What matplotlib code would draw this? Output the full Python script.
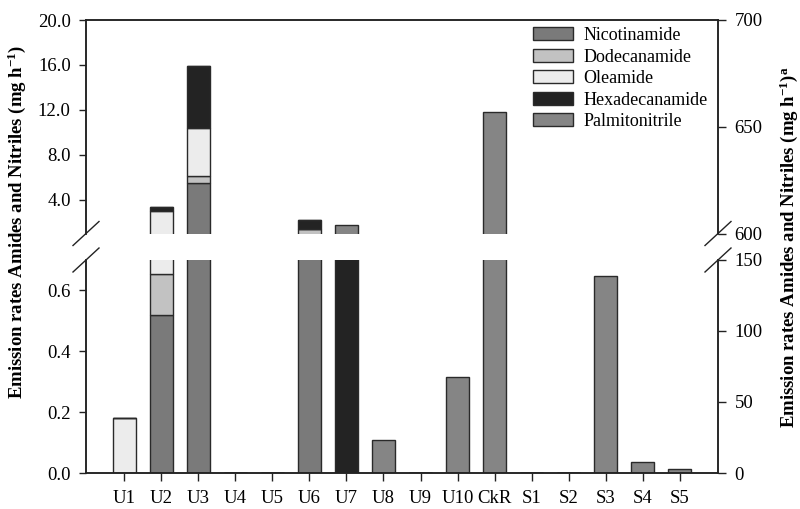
import matplotlib
matplotlib.use("Agg")
import matplotlib.pyplot as plt
import numpy as np
from matplotlib.lines import Line2D

plt.rcParams['font.family'] = ['Liberation Serif', 'DejaVu Serif']
plt.rcParams['mathtext.fontset'] = 'custom'
plt.rcParams['mathtext.rm'] = 'Liberation Serif'
plt.rcParams['mathtext.bf'] = 'Liberation Serif:bold'
plt.rcParams['mathtext.it'] = 'Liberation Serif:italic'

categories = ['U1', 'U2', 'U3', 'U4', 'U5', 'U6', 'U7', 'U8', 'U9', 'U10',
              'CkR', 'S1', 'S2', 'S3', 'S4', 'S5']
series_names = ['Nicotinamide', 'Dodecanamide', 'Oleamide', 'Hexadecanamide', 'Palmitonitrile']
nicotinamide   = [0, 0.52, 5.5, 0, 0, 0.85, 0, 0, 0, 0, 0, 0, 0, 0, 0, 0]
dodecanamide   = [0, 0.135, 0.6, 0, 0, 0.57, 0, 0, 0, 0, 0, 0, 0, 0, 0, 0]
oleamide       = [0.18, 2.345, 4.3, 0, 0, 0, 0, 0, 0, 0, 0, 0, 0, 0, 0, 0]
hexadecanamide = [0, 0.38, 5.5, 0, 0, 0.74, 0.9, 0, 0, 0, 0, 0, 0, 0, 0, 0]
palmitonitrile = [0, 0, 0, 0, 0, 0, 0.85, 0.108, 0, 0.317, 11.85, 0, 0, 0.648, 0.036, 0.013]
series = [nicotinamide, dodecanamide, oleamide, hexadecanamide, palmitonitrile]
colors = ['#7a7a7a', '#c2c2c2', '#ececec', '#232323', '#858585']

top_left_ticks = [4.0, 8.0, 12.0, 16.0, 20.0]
bot_left_ticks = [0.0, 0.2, 0.4, 0.6]
top_right_ticks = [600, 650, 700]
bot_right_ticks = [0, 50, 100, 150]

W, H = 800, 509
fig = plt.figure(figsize=(W/100, H/100), dpi=100)
L, R = 86/W, 718/W
ax_top = fig.add_axes([L, 1-233.5/H, R-L, (233.5-20)/H])
ax_bot = fig.add_axes([L, 1-473/H, R-L, (473-260)/H])

x = np.arange(len(categories))
edge = '#2a2a2a'
for ax in (ax_top, ax_bot):
    bottom = np.zeros(len(categories))
    for name, vals, c in zip(series_names, series, colors):
        v = np.array(vals, dtype=float)
        ax.bar(x, v, 0.62, bottom=bottom, color=c, edgecolor=edge, linewidth=1.0,
               label=name)
        bottom += v
    ax.set_xlim(-1.027, 16.027)
    for s in ax.spines.values():
        s.set_linewidth(1.1)
        s.set_color('#222222')
    ax.tick_params(axis='y', direction='out', length=5, width=1, labelsize=13.5, pad=6, color='#222222')

ax_top.set_ylim(1.0, 20.0)
ax_top.set_yticks(top_left_ticks)
ax_top.set_yticklabels([f'{t:.1f}' for t in top_left_ticks])
ax_top.spines['bottom'].set_visible(False)
ax_top.set_xticks([])

ax_bot.set_ylim(0, 0.7)
ax_bot.set_yticks(bot_left_ticks)
ax_bot.set_yticklabels([f'{t:.1f}' for t in bot_left_ticks])
ax_bot.spines['top'].set_visible(False)
ax_bot.set_xticks(x)
ax_bot.set_xticklabels(categories)
ax_bot.tick_params(axis='x', direction='out', length=6, width=1, labelsize=13.5, pad=6, color='#222222')

# right axes
axt_r = ax_top.twinx()
axt_r.set_ylim(600, 700)
axt_r.set_yticks(top_right_ticks)
axt_r.spines['bottom'].set_visible(False)
axb_r = ax_bot.twinx()
axb_r.set_ylim(0, 150)
axb_r.set_yticks(bot_right_ticks)
axb_r.spines['top'].set_visible(False)
for ax in (axt_r, axb_r):
    for s in ax.spines.values():
        s.set_linewidth(1.1)
        s.set_color('#222222')
    ax.tick_params(axis='y', direction='out', length=6, width=1, labelsize=13.5, pad=6, color='#222222')

# break marks
for xs in (86, 718):
    for ys in (233.5, 260):
        fig.add_artist(Line2D([(xs-13)/W, (xs+13)/W], [1-(ys+12)/H, 1-(ys-12)/H],
                              color='#222222', lw=1.0))

fig.text(17/W, 1-222/H, r'Emission rates Amides and Nitriles (mg h$^{\mathbf{-1}}$)',
         rotation=90, ha='center', va='center', fontsize=13.5, fontweight='bold')
fig.text(789/W, 1-247/H, r'Emission rates Amides and Nitriles (mg h$^{\mathbf{-1}}$)$^{\mathbf{a}}$',
         rotation=90, ha='center', va='center', fontsize=13.5, fontweight='bold')

handles, labels = ax_top.get_legend_handles_labels()
fig.legend(handles, labels, loc='upper left', bbox_to_anchor=(533/W, 1-27/H),
           frameon=False, fontsize=13, handlelength=2.2, handleheight=0.7,
           labelspacing=0.25, handletextpad=0.6, borderpad=0, borderaxespad=0)

fig.savefig('out.png', dpi=100)
